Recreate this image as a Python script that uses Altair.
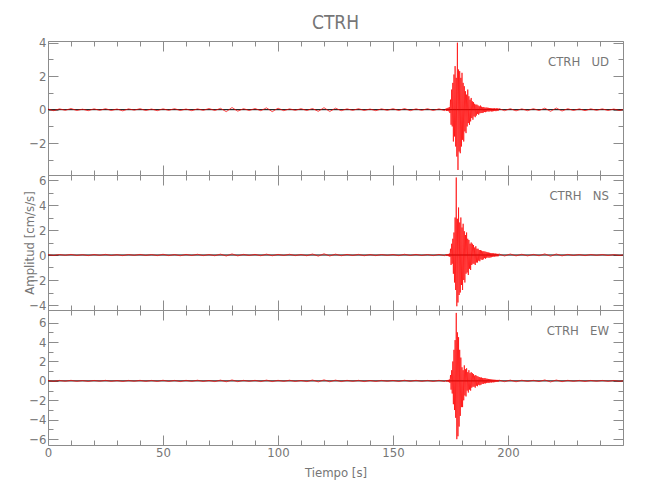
import altair as alt
import numpy as np
import pandas as pd

# ---------------- data ----------------
# time grids: quiet part before the event, the event itself, quiet part after
t_pre = [0 + 2.5 * i for i in range(70)]          # 0 .. 172.5 s
t_evt = [173 + 0.25 * i for i in range(92)]       # 173 .. 195.75 s
t_post = [196 + 2.5 * i for i in range(23)]       # 196 .. 251 s

ud_pre = [0.04, -0.06, 0.05, -0.04, 0.07, -0.05, 0.03, -0.06, 0.05, -0.04,
          0.06, -0.05, 0.04, -0.07, 0.05, -0.03, 0.06, -0.05, 0.04, -0.06,
          0.05, -0.04, 0.06, -0.05, 0.04, -0.06, 0.05, -0.04, 0.07, -0.05,
          0.08, -0.12, 0.13, -0.09, 0.06, -0.05, 0.07, -0.06, 0.11, -0.12,
          0.09, -0.06, 0.05, -0.04, 0.06, -0.05, 0.07, -0.10, 0.12, -0.11,
          0.09, -0.06, 0.05, -0.04, 0.06, -0.05, 0.04, -0.06, 0.05, -0.04,
          0.06, -0.05, 0.07, -0.06, 0.05, -0.04, 0.06, -0.05, 0.05, -0.06]
ud_evt = [0.06, -0.08, 0.10, -0.07, 0.12, -0.10, 0.15, -0.20,
          0.60, -0.90, 1.20, -1.00, 1.60, -1.90, 2.10, -1.60,
          2.60, -2.20, 1.90, -2.80, 4.00, -3.60, 2.40, -2.50,
          2.30, -2.60, 1.90, -2.20, 2.20, -1.80, 1.60, -1.90,
          1.40, -1.30, 1.10, -1.40, 0.90, -1.00, 1.20, -0.80,
          0.80, -0.90, 0.60, -0.70, 0.70, -0.50, 0.50, -0.60,
          0.45, -0.40, 0.35, -0.45, 0.30, -0.35, 0.30, -0.25,
          0.25, -0.30, 0.20, -0.22, 0.25, -0.20, 0.18, -0.20,
          0.15, -0.18, 0.16, -0.14, 0.12, -0.15, 0.13, -0.12,
          0.12, -0.10, 0.11, -0.12, 0.10, -0.09, 0.10, -0.11,
          0.09, -0.10, 0.08, -0.09, 0.10, -0.08, 0.07, -0.09,
          0.08, -0.07, 0.08, -0.06]
ud_post = [0.07, -0.06, 0.06, -0.07, 0.05, -0.06, 0.06, -0.05, 0.09, -0.10,
           0.10, -0.08, 0.06, -0.05, 0.05, -0.06, 0.05, -0.04, 0.05, -0.05,
           0.04, -0.05, 0.05]

ns_pre = [0.03, -0.04, 0.04, -0.03, 0.05, -0.04, 0.03, -0.05, 0.04, -0.03,
          0.05, -0.04, 0.03, -0.05, 0.04, -0.03, 0.05, -0.04, 0.04, -0.05,
          0.06, -0.05, 0.04, -0.06, 0.05, -0.04, 0.06, -0.05, 0.04, -0.06,
          0.07, -0.08, 0.09, -0.07, 0.05, -0.04, 0.05, -0.06, 0.07, -0.06,
          0.05, -0.04, 0.06, -0.05, 0.04, -0.06, 0.08, -0.09, 0.10, -0.08,
          0.07, -0.06, 0.05, -0.04, 0.05, -0.06, 0.04, -0.05, 0.04, -0.03,
          0.04, -0.05, 0.06, -0.04, 0.05, -0.04, 0.04, -0.05, 0.05, -0.06]
ns_evt = [0.05, -0.06, 0.07, -0.05, 0.08, -0.10, 0.12, -0.15,
          0.50, -0.80, 0.90, -0.70, 1.30, -1.50, 1.80, -2.20,
          3.00, -2.80, 6.20, -4.10, 2.90, -3.80, 3.80, -3.20,
          2.60, -3.00, 3.00, -2.40, 2.20, -2.80, 2.50, -2.00,
          1.90, -2.20, 1.60, -1.50, 1.80, -1.40, 1.30, -1.60,
          1.20, -1.10, 0.90, -1.20, 1.00, -0.80, 0.90, -0.70,
          0.80, -0.70, 0.60, -0.80, 0.70, -0.60, 0.50, -0.60,
          0.50, -0.45, 0.40, -0.50, 0.40, -0.35, 0.35, -0.40,
          0.30, -0.35, 0.30, -0.25, 0.28, -0.30, 0.25, -0.22,
          0.22, -0.20, 0.20, -0.22, 0.18, -0.20, 0.16, -0.18,
          0.15, -0.14, 0.16, -0.13, 0.12, -0.14, 0.12, -0.11,
          0.10, -0.11, 0.09, -0.10]
ns_post = [0.09, -0.08, 0.08, -0.07, 0.06, -0.07, 0.05, -0.06, 0.09, -0.10,
           0.08, -0.07, 0.05, -0.04, 0.04, -0.05, 0.04, -0.03, 0.04, -0.04,
           0.03, -0.04, 0.04]

ew_pre = [0.04, -0.05, 0.05, -0.04, 0.06, -0.05, 0.04, -0.06, 0.05, -0.04,
          0.06, -0.05, 0.04, -0.06, 0.05, -0.04, 0.06, -0.05, 0.05, -0.06,
          0.07, -0.06, 0.05, -0.07, 0.06, -0.05, 0.07, -0.06, 0.05, -0.07,
          0.08, -0.09, 0.10, -0.08, 0.06, -0.05, 0.06, -0.07, 0.08, -0.07,
          0.06, -0.05, 0.07, -0.06, 0.05, -0.07, 0.09, -0.10, 0.11, -0.09,
          0.08, -0.07, 0.06, -0.05, 0.06, -0.07, 0.05, -0.06, 0.05, -0.04,
          0.05, -0.06, 0.07, -0.05, 0.06, -0.05, 0.05, -0.06, 0.06, -0.07]
ew_evt = [0.05, -0.06, 0.08, -0.06, 0.10, -0.12, 0.15, -0.20,
          0.60, -0.90, 1.10, -1.30, 2.00, -2.40, 3.20, -3.00,
          4.20, -3.80, 7.00, -6.00, 5.00, -5.70, 4.50, -4.70,
          3.20, -3.60, 2.40, -2.70, 1.40, -2.70, 1.10, -2.00,
          1.60, -1.50, 1.20, -1.60, 1.30, -1.00, 0.90, -1.20,
          1.10, -0.90, 0.80, -1.00, 0.90, -0.70, 0.80, -0.60,
          0.70, -0.60, 0.55, -0.70, 0.60, -0.50, 0.50, -0.55,
          0.45, -0.40, 0.40, -0.45, 0.35, -0.40, 0.35, -0.30,
          0.30, -0.32, 0.28, -0.25, 0.30, -0.26, 0.24, -0.22,
          0.22, -0.20, 0.20, -0.22, 0.18, -0.16, 0.17, -0.18,
          0.15, -0.14, 0.13, -0.15, 0.12, -0.13, 0.11, -0.10,
          0.10, -0.09, 0.10, -0.08]
ew_post = [0.09, -0.08, 0.08, -0.09, 0.07, -0.06, 0.06, -0.07, 0.10, -0.11,
           0.09, -0.08, 0.06, -0.05, 0.05, -0.06, 0.05, -0.04, 0.05, -0.05,
           0.04, -0.05, 0.05]

x_labels = [0, 50, 100, 150, 200]
x_major = [0, 50, 100, 150, 200, 250]
x_minor = [v for v in range(10, 250, 10) if v % 50 != 0]

NB = "\u00a0"
panels_info = [
    # label, pre, evt, post, y-domain, y labels/major ticks, y minor ticks
    ("CTRH" + NB * 3 + "UD", ud_pre, ud_evt, ud_post, [-3.9, 4.1], [-2, 0, 2, 4], [-3, -1, 1, 3]),
    ("CTRH" + NB * 3 + "NS", ns_pre, ns_evt, ns_post, [-4.4, 6.4], [-4, -2, 0, 2, 4, 6], [-3, -1, 1, 3, 5]),
    ("CTRH" + NB * 3 + "EW", ew_pre, ew_evt, ew_post, [-6.6, 7.3], [-6, -4, -2, 0, 2, 4, 6], [-5, -3, -1, 1, 3, 5]),
]

# ---------------- style ----------------
W = 575
HEIGHTS = [134, 135, 135]
LINE_GRAY = "#8c8c8c"
TEXT_GRAY = "#767676"
FONT = "Liberation Sans Narrow, DejaVu Sans Condensed, Roboto, sans-serif"


def tick_layer(xs, ys, x_orient, y_orient, xvals, yvals, size, H):
    return alt.Chart(pd.DataFrame({"k": [0]})).mark_point(opacity=0).encode(
        x=alt.XDatum(0, type="quantitative", scale=xs,
                     axis=alt.Axis(orient=x_orient, offset=-H, values=xvals, tickSize=size,
                                   tickColor=LINE_GRAY, labels=False, domain=False,
                                   grid=False, title=None)),
        y=alt.YDatum(0, type="quantitative", scale=ys,
                     axis=alt.Axis(orient=y_orient, offset=-W, values=yvals, tickSize=size,
                                   tickColor=LINE_GRAY, labels=False, domain=False,
                                   grid=False, title=None)),
    )


def make_panel(i):
    label, pre, evt, post, dom, ymaj, ymin = panels_info[i]
    H = HEIGHTS[i]
    df = pd.DataFrame({"t": t_pre + t_evt + t_post, "a": pre + evt + post})
    xs = alt.Scale(domain=[0, 250], nice=False, zero=False)
    ys = alt.Scale(domain=dom, nice=False, zero=False)

    if i == 2:
        xax = alt.Axis(orient="bottom", values=x_labels, ticks=False, domain=False, grid=False,
                       labelPadding=1, labelFlush=False, title="Tiempo [s]", titlePadding=7)
    else:
        xax = alt.Axis(orient="bottom", labels=False, ticks=False, domain=False, grid=False,
                       title=None)
    if i == 1:
        yax = alt.Axis(orient="left", values=ymaj, ticks=False, domain=False, grid=False,
                       labelPadding=2, labelFlush=False, title="Amplitud [cm/s/s]",
                       titleX=-19, titleY=H / 2, titleAngle=270, titleBaseline="middle")
    else:
        yax = alt.Axis(orient="left", values=ymaj, ticks=False, domain=False, grid=False,
                       labelPadding=2, labelFlush=False, title=None)

    zero = alt.Chart(pd.DataFrame({"k": [0]})).mark_rule(color="black", strokeWidth=1).encode(
        y=alt.YDatum(0, type="quantitative", scale=ys, axis=None)
    )
    line = alt.Chart(df).mark_line(color="#ff0000", strokeWidth=0.7, clip=True).encode(
        x=alt.X("t:Q", scale=xs, axis=xax),
        y=alt.Y("a:Q", scale=ys, axis=yax),
        order="t:Q",
    )
    t1 = tick_layer(xs, ys, "top", "right", x_major, ymaj, 10, H)
    t2 = tick_layer(xs, ys, "top", "right", x_minor, ymin, 5, H)
    t3 = tick_layer(xs, ys, "bottom", "left", x_major, ymaj, 10, H)
    t4 = tick_layer(xs, ys, "bottom", "left", x_minor, ymin, 5, H)
    txt = alt.Chart(pd.DataFrame({"lab": [label]})).mark_text(
        align="right", baseline="middle", font=FONT, fontSize=13, color=TEXT_GRAY
    ).encode(text="lab:N", x=alt.value(W - 14), y=alt.value(21))

    return alt.layer(zero, line, t1, t2, t3, t4, txt).resolve_axis(
        x="independent", y="independent"
    ).properties(width=W, height=H)


chart = alt.vconcat(make_panel(0), make_panel(1), make_panel(2), spacing=0,
                    bounds="flush").properties(
    title=alt.TitleParams("CTRH", fontSize=19, font=FONT, color=TEXT_GRAY, fontWeight="normal",
                          anchor="middle", frame="group", offset=3),
    padding={"left": 14, "top": 6, "right": 5, "bottom": 5},
).configure_view(stroke=LINE_GRAY, strokeWidth=1).configure_axis(
    labelFont=FONT, labelFontSize=13, labelColor=TEXT_GRAY,
    titleFont=FONT, titleFontSize=13, titleColor=TEXT_GRAY, titleFontWeight="normal",
).configure_concat(spacing=0)

chart.save("out.html", embed_options={"renderer": "svg", "actions": False})
